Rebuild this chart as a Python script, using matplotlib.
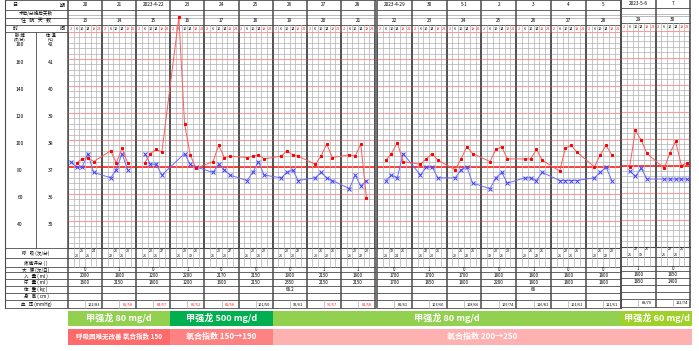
import matplotlib
matplotlib.use('Agg')
import matplotlib.pyplot as plt
from matplotlib.patches import Rectangle

plt.rcParams['font.family'] = ['Noto Sans CJK SC', 'DejaVu Sans']

N = None
dates = ['20', '21', '2023-4-22', '23', '24', '25', '26', '27', '28',
         '2023-4-29', '30', '5-1', '2', '3', '4', '5', '2023-5-6', '7']
hosp_days = [13, 14, 15, 16, 17, 18, 19, 20, 21, 22, 23, 24, 25, 26, 27, 28, 29, 30]
times = ['2', '6', '10', '14', '18', '22']
time_red = [True, False, False, False, True, True]

# pulse (bpm) per day, slots 2/6/10/14/18/22
pulse = [
    [N, 83, 86, 87, 84, N], [N, 92, 83, 94, 83, N], [N, 83, 90, 93, 91, N],
    [N, 191, 112, 89, 79, N], [N, 84, 96, 87, 88, N], [N, 87, 88, 89, 86, N],
    [N, 88, 92, 89, 88, N], [N, 82, 88, 97, 87, N], [N, 89, 88, 97, 57, N],
    [N, 85, 90, 98, 84, N], [N, 82, 86, 90, 85, N], [N, 78, 86, 95, 90, N],
    [N, 84, 93, 95, 86, N], [N, 86, 86, 93, 85, N], [N, 77, 94, 96, 91, N],
    [N, 80, 89, 96, 89, N], [N, 79, 106, 99, 89, N], [N, 78, 89, 98, 80, 82],
]
# temperature (C) per day
temp = [
    [37.2, 37.0, 37.0, 37.5, 36.8, N], [N, 36.6, 36.9, 37.5, 36.9, N], [N, 37.5, 37.1, 37.1, 36.7, N],
    [N, N, 37.5, 37.1, 37.0, N], [N, 36.8, 37.1, 36.9, 36.7, N], [N, 36.5, 36.8, 37.2, 36.7, N],
    [N, 36.6, 36.8, 36.9, 36.5, N], [N, 36.6, 36.8, 36.6, 36.5, N], [N, 36.2, 36.7, 36.3, 36.5, N],
    [N, 36.5, 36.7, 36.6, 37.5, N], [N, 36.7, 37.0, 37.0, 36.6, N], [N, 36.6, 36.9, 37.0, 36.4, N],
    [N, 36.2, 36.6, 36.8, 36.4, N], [N, 36.6, 36.6, 36.5, 36.8, N], [N, 36.5, 36.5, 36.5, 36.5, N],
    [N, 36.6, 36.8, 37.0, 36.5, N], [N, 36.8, 36.6, 36.9, 36.5, N], [N, 36.5, 36.5, 36.5, 36.5, 36.5],
]
line_breaks = [2]  # curves restart on 2023-4-22

breath = [
    [20, 21, 21, 24], [22, 21, 21, 20], [21, 20, 21, 27], [21, 20, 19, 21], [21, 20, 20, 27],
    [21, 20, 21, 20], [21, 20, 20, 22], [20, 21, 20, 21], [21, 20, 22, 20], [20, 19, 24, 21],
    [21, 22, 20, 21], [20, 21, 22, 21], [19, 20, 21, 20], [20, 21, 22, 21], [21, 20, 21, 21],
    [20, 21, 22, 20], [21, 22, 19, 21], [21, 22, 21, 21],
]
stool = [0, 1, 0, 1, 0, 0, 0, 1, 1, 0, 1, 0, 0, 1, 0, 0, 1, 0]
intake = [2000, 1800, 1200, 2200, 2170, 2150, 1900, 2150, 1800, 1700, 1700, 1700,
          1800, 1800, 1800, 1800, 1800, 1850]
urine = [1600, 2150, 1800, 1200, 1600, 2150, 2350, 2150, 2150, 1700, 1850, 1800,
         2200, 1800, 1800, 1800, 1850, 1400]
weight = {6: '68.2', 13: '68'}
bp = ['102/83', '85/58', '84/57', '80/52', '81/58', '101/50', '92/61', '90/57', '81/58',
      '81/61', '103/60', '108/66', '105/74', '116/81', '101/61', '111/61', '88/70', '112/74']
bp_low = [False, True, True, True, True, False, False, True, True,
          False, False, False, False, False, False, False, False, False]

drug_bands = [(0, 3, '甲强龙 80 mg/d', '#92D050'), (3, 6, '甲强龙 500 mg/d', '#00B050'),
              (6, 16, '甲强龙 80 mg/d', '#92D050'), (16, 18, '甲强龙 60 mg/d', '#A0D12A')]
oxy_bands = [(0, 3, '呼吸困难无改善 氧合指数 150', '#FF6B6B', 4.7),
             (3, 6, '氧合指数 150→190', '#FF8282', 5.8),
             (6, 18, '氧合指数 200→250', '#FFB0B0', 5.8)]

# page layout (pixels): day range, left/right edge, vertical shift
W, H = 699, 351
panels = [(0, 9, 68.0, 375.0, 0.0), (9, 16, 377.0, 620.5, 0.0), (16, 18, 621.0, 690.0, -1.5)]
G_TOP, G_BOT = 32.0, 248.0
rows_bottom = [258.3, 267.3, 272.3, 279.3, 286.0, 293.3, 300.0, 308.3]

fig = plt.figure(figsize=(W / 100, H / 100), dpi=100)
base = fig.add_axes([0, 0, 1, 1])
base.set_xlim(0, W)
base.set_ylim(H, 0)
base.axis('off')

DARK = '#4a4a4a'
GRAY = '#b0b0b0'
fs = 3.6


def day_edge(g):
    for a, b, x0, x1, _ in panels:
        if a <= g < b:
            return x0 + (g - a) * (x1 - x0) / (b - a)
    return panels[-1][3]


# ---- left table ----
L0, L1, LM = 4.5, 66.5, 35.7
for y in [0, 9.5, 17.5, 24.7, G_TOP, G_BOT] + rows_bottom:
    base.plot([L0, L1], [y, y], color=DARK, lw=0.6)
base.plot([L0, L0], [0, rows_bottom[-1]], color=DARK, lw=0.8)
base.plot([LM, LM], [G_TOP, G_BOT], color=DARK, lw=0.6)
base.text(15, 5, '日', ha='center', va='center', fontsize=fs)
base.text(62, 5, '期', ha='center', va='center', fontsize=fs)
base.text(36, 13.5, '术后/分娩后天数', ha='center', va='center', fontsize=fs - 0.3)
base.text(36, 21, '住   院   天   数', ha='center', va='center', fontsize=fs)
base.text(15, 28.5, '时', ha='center', va='center', fontsize=fs)
base.text(62, 28.5, '间', ha='center', va='center', fontsize=fs)
base.text(20, 35.3, '脉 搏', ha='center', va='center', fontsize=fs - 0.4)
base.text(20, 40.6, '(次/分)', ha='center', va='center', fontsize=fs - 0.9)
base.text(51, 35.3, '体 温', ha='center', va='center', fontsize=fs - 0.4)
base.text(51, 40.6, '(℃)', ha='center', va='center', fontsize=fs - 0.9)
left_labels = ['呼   吸 (次/分)', '疼痛评分 ( )', '大   便 (次/日)', '入   量 ( ml )',
               '尿   量 ( ml )', '体   重 ( kg )', '身   高 ( cm )', '血   压 (mmHg)']
prev = G_BOT
for lab, y in zip(left_labels, rows_bottom):
    base.text(36, (prev + y) / 2, lab, ha='center', va='center', fontsize=fs - 0.3)
    prev = y

lax = fig.add_axes([L0 / W, 1 - G_BOT / H, (L1 - L0) / W, (G_BOT - G_TOP) / H])
lax.set_xlim(L0, L1)
lax.set_ylim(34, 42)
lax.axis('off')
for t in range(35, 43):
    yy = 41.55 if t == 42 else t - 0.12
    lax.text(20, yy, str(80 + (t - 37) * 20), ha='center', va='center', fontsize=fs)
    lax.text(51, yy, str(t), ha='center', va='center', fontsize=fs)

# ---- panels ----
for a, b, x0, x1, dy in panels:
    n = b - a
    dw = (x1 - x0) / n
    sw = dw / 6
    # header rows
    for y in [0, 9.5, 17.5, 24.7]:
        base.plot([x0, x1], [y + dy, y + dy], color=DARK if y != 17.5 else GRAY, lw=0.6)
    base.plot([x0, x1], [15.0 + dy, 15.0 + dy], color=GRAY, lw=0.6)
    for y in rows_bottom:
        base.plot([x0, x1], [y + dy, y + dy], color=DARK, lw=0.6)
    base.plot([x0, x1], [G_BOT + dy, G_BOT + dy], color=DARK, lw=0.8)
    for k in range(n * 6 + 1):
        xx = x0 + k * sw
        if k % 6 == 0:
            base.plot([xx, xx], [dy, rows_bottom[-1] + dy], color=DARK, lw=1.1)
        else:
            base.plot([xx, xx], [24.7 + dy, G_TOP + dy], color=GRAY, lw=0.5)
            base.plot([xx, xx], [G_BOT + dy, rows_bottom[1] + dy], color=GRAY, lw=0.5)
    for i in range(n):
        g = a + i
        cx = x0 + (i + 0.5) * dw
        base.text(cx, 5 + dy, dates[g], ha='center', va='center', fontsize=fs - 0.2)
        base.text(cx, 21 + dy, str(hosp_days[g]), ha='center', va='center', fontsize=fs - 0.2)
        for s in range(6):
            sx = x0 + i * dw + (s + 0.5) * sw
            base.text(sx, 28.5 + dy, times[s], ha='center', va='center', fontsize=fs - 0.8,
                      color='#ff2020' if time_red[s] else 'black')
        for s, v in enumerate(breath[g]):
            sx = x0 + i * dw + (s + 1.5) * sw
            base.text(sx, (256 if s % 2 == 0 else 251) + dy, str(v), ha='center',
                      va='center', fontsize=fs - 1.0)
        base.text(cx, (rows_bottom[1] + rows_bottom[2]) / 2 + dy, str(stool[g]),
                  ha='center', va='center', fontsize=fs - 0.4)
        base.text(cx, (rows_bottom[2] + rows_bottom[3]) / 2 + dy, str(intake[g]),
                  ha='center', va='center', fontsize=fs - 0.4)
        base.text(cx, (rows_bottom[3] + rows_bottom[4]) / 2 + dy, str(urine[g]),
                  ha='center', va='center', fontsize=fs - 0.4)
        if g in weight:
            base.text(cx, (rows_bottom[4] + rows_bottom[5]) / 2 + dy, weight[g],
                      ha='center', va='center', fontsize=fs - 0.4)
        hx = x0 + (i + 0.5) * dw
        base.plot([hx, hx], [rows_bottom[6] + dy, rows_bottom[7] + dy], color=GRAY, lw=0.5)
        base.text(x0 + (i + 0.75) * dw, (rows_bottom[6] + rows_bottom[7]) / 2 + 0.3 + dy,
                  bp[g], ha='center', va='center', fontsize=fs - 0.8,
                  color='#ff2020' if bp_low[g] else 'black')

    # chart grid
    ax = fig.add_axes([x0 / W, 1 - (G_BOT + dy) / H, (x1 - x0) / W, (G_BOT - G_TOP) / H])
    ax.set_xlim(0, n * 6)
    ax.set_ylim(34, 42)
    ax.axis('off')
    for k in range(40):
        yv = 34 + k * 0.2
        ax.axhline(yv, color=GRAY, lw=0.5, zorder=1)
    for t in range(35, 43):
        ax.axhline(t, color='#ff3030' if t == 37 else '#ff9a9a',
                   lw=1.3 if t == 37 else 0.8, zorder=2)
    for k in range(n * 6 + 1):
        ax.axvline(k, color=DARK if k % 6 == 0 else GRAY,
                   lw=1.1 if k % 6 == 0 else 0.5, zorder=2)

    pax = ax.twinx()
    pax.set_ylim(20, 180)
    pax.axis('off')

    for vals, axx, lc, mk, mc, ms in [(temp, ax, '#6a6aff', 'x', '#4040ff', 2.6),
                                      (pulse, pax, '#ff5a5a', 's', '#ff0000', 2.0)]:
        segs = []
        xs, ys = [], []
        for i in range(n):
            g = a + i
            if g in line_breaks and xs:
                segs.append((xs, ys))
                xs, ys = [], []
            for s, v in enumerate(vals[g]):
                if v is not None:
                    xs.append(i * 6 + s + 0.5)
                    ys.append(v)
        segs.append((xs, ys))
        for sx, sy in segs:
            axx.plot(sx, sy, '-', color=lc, lw=0.7, zorder=4, clip_on=False)
            axx.plot(sx, sy, mk, color=mc, ms=ms, mew=0.7, zorder=5, clip_on=False)

# ---- treatment bands ----
for g0, g1, lab, col in drug_bands:
    xa, xb = day_edge(g0), day_edge(g1) + (2 if g1 == 18 else 0)
    base.add_patch(Rectangle((xa, 310.5), xb - xa, 15.5, color=col, lw=0))
    base.text((xa + xb) / 2, 318.3, lab, ha='center', va='center', fontsize=6.6,
              color='white', fontweight='bold')
for g0, g1, lab, col, f in oxy_bands:
    xa, xb = day_edge(g0), day_edge(g1) + (2 if g1 == 18 else 0)
    base.add_patch(Rectangle((xa, 328.5), xb - xa, 16, color=col, lw=0))
    base.text((xa + xb) / 2, 336.5, lab, ha='center', va='center', fontsize=f,
              color='white', fontweight='bold')

fig.savefig('out.png', dpi=100)
